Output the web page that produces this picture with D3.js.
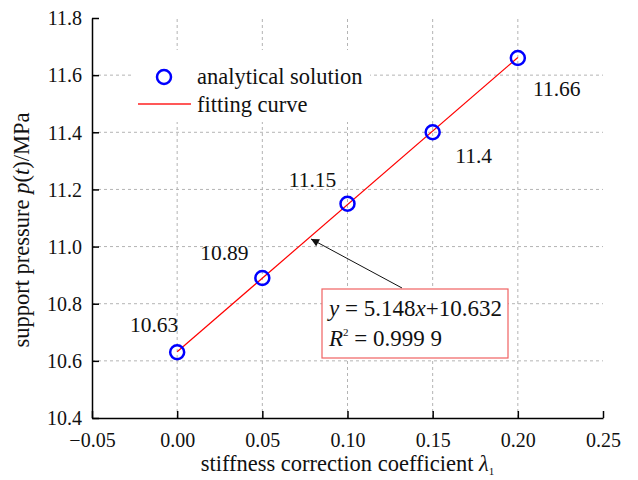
<!DOCTYPE html>
<html>
<head>
<meta charset="utf-8">
<script src="https://cdn.jsdelivr.net/npm/d3@7"></script>
<style>
  body { margin: 0; background: #fff; }
  svg, svg text { font-family: 'Liberation Serif', 'Times New Roman', Times, 'DejaVu Serif', serif; }
  .grid line { stroke: #b4b4b4; stroke-dasharray: 3,3; stroke-width: 1; }
</style>
</head>
<body>
<svg id="chart" width="638" height="480"></svg>
<script>
// stiffness correction coefficient vs support pressure
var lambdas = [0.00, 0.05, 0.10, 0.15, 0.20]
var pressures = [10.63, 10.89, 11.15, 11.40, 11.66]
var pointLabels = ['10.63', '10.89', '11.15', '11.4', '11.66']
var xTicks = [-0.05, 0.00, 0.05, 0.10, 0.15, 0.20, 0.25]
var yTicks = [10.4, 10.6, 10.8, 11.0, 11.2, 11.4, 11.6, 11.8]
var fitSlope = 5.148
var fitIntercept = 10.632
var fitRange = [0.00, 0.20]

// label offsets in px relative to each point (layout only)
var labelOffsets = [[-23, -20], [-38, -18], [-35, -17], [41, 31], [39, 38]]

var margin = {left: 92, right: 35, top: 18, bottom: 62}
,   width = 638
,   height = 480

var svg = d3.select('#chart')

var x = d3.scaleLinear().domain([-0.05, 0.25]).range([margin.left, width - margin.right])
var y = d3.scaleLinear().domain([10.4, 11.8]).range([height - margin.bottom, margin.top])

var fit = (v) => fitSlope * v + fitIntercept

// grid
var grid = svg.append('g').attr('class', 'grid')
grid.selectAll('.gy')
  .data(yTicks.slice(1, -1))
  .enter().append('line')
  .attr('x1', x.range()[0]).attr('x2', x.range()[1])
  .attr('y1', (d) => y(d)).attr('y2', (d) => y(d))
grid.selectAll('.gx')
  .data(xTicks.slice(1, -1))
  .enter().append('line')
  .attr('y1', y.range()[0]).attr('y2', y.range()[1])
  .attr('x1', (d) => x(d)).attr('x2', (d) => x(d))

// axes, ticks pointing inward
var xAxis = svg.append('g')
  .attr('transform', 'translate(0,' + y.range()[0] + ')')
  .call(d3.axisBottom(x).tickValues(xTicks).tickSizeInner(-7).tickSizeOuter(0)
    .tickPadding(15).tickFormat((d) => d3.format('.2f')(d).replace('-', '\u2212')))
var yAxis = svg.append('g')
  .attr('transform', 'translate(' + x.range()[0] + ',0)')
  .call(d3.axisLeft(y).tickValues(yTicks).tickSizeInner(-7).tickSizeOuter(0)
    .tickPadding(10).tickFormat(d3.format('.1f')))

;[xAxis, yAxis].forEach((a) => {
  a.attr('font-family', null).attr('font-size', null)
  a.select('.domain').attr('stroke', '#000').attr('stroke-width', 1.5)
  a.selectAll('.tick line').attr('stroke', '#000').attr('stroke-width', 1.5)
  a.selectAll('.tick text')
    .attr('font-size', 20).attr('fill', '#111')
})
yAxis.selectAll('.tick text').attr('dy', '0.34em')
xAxis.selectAll('.tick text').attr('dy', '0.68em')

// legend
var legend = svg.append('g')
legend.append('rect')
  .attr('x', 133).attr('y', 50).attr('width', 237).attr('height', 72)
  .attr('fill', '#fff')
legend.append('circle')
  .attr('cx', 164).attr('cy', 77).attr('r', 7)
  .attr('fill', 'none').attr('stroke', '#0000ff').attr('stroke-width', 2.5)
legend.append('text')
  .attr('x', 197).attr('y', 84).attr('font-size', 22.5).attr('fill', '#111')
  .text('analytical solution')
legend.append('line')
  .attr('x1', 138).attr('x2', 191).attr('y1', 104).attr('y2', 104)
  .attr('stroke', '#ff2020').attr('stroke-width', 1.5)
legend.append('text')
  .attr('x', 197).attr('y', 112).attr('font-size', 22.5).attr('fill', '#111')
  .text('fitting curve')

// fitting line
svg.append('path')
  .datum(fitRange)
  .attr('fill', 'none')
  .attr('stroke', '#ff0000')
  .attr('stroke-width', 1.2)
  .attr('d', d3.line().x((d) => x(d)).y((d) => y(fit(d))))

// points
var pts = lambdas.map((l, i) => ({l: l, p: pressures[i], label: pointLabels[i], off: labelOffsets[i]}))

svg.selectAll('.pt')
  .data(pts)
  .enter().append('circle')
  .attr('class', 'pt')
  .attr('cx', (d) => x(d.l)).attr('cy', (d) => y(d.p))
  .attr('r', 7)
  .attr('fill', 'none').attr('stroke', '#0000ff').attr('stroke-width', 2.5)

svg.selectAll('.ptlabel')
  .data(pts)
  .enter().append('text')
  .attr('class', 'ptlabel')
  .attr('x', (d) => x(d.l) + d.off[0]).attr('y', (d) => y(d.p) + d.off[1])
  .attr('text-anchor', 'middle')
  .attr('font-size', 21.5).attr('fill', '#111')
  .text((d) => d.label)

// annotation arrow + equation box
var arrowTipX = 0.078
var defs = svg.append('defs')
defs.append('marker')
  .attr('id', 'arrow').attr('viewBox', '0 0 10 10')
  .attr('refX', 10).attr('refY', 5)
  .attr('markerWidth', 10).attr('markerHeight', 8)
  .attr('markerUnits', 'userSpaceOnUse')
  .attr('orient', 'auto')
  .append('path').attr('d', 'M0,0L10,5L0,10Z').attr('fill', '#111')

svg.append('line')
  .attr('x1', 402).attr('y1', 288)
  .attr('x2', x(arrowTipX) + 1).attr('y2', y(fit(arrowTipX)) + 2)
  .attr('stroke', '#111').attr('stroke-width', 1)
  .attr('marker-end', 'url(#arrow)')

var box = svg.append('g')
box.append('rect')
  .attr('x', 322).attr('y', 289).attr('width', 186).attr('height', 69)
  .attr('fill', '#fff').attr('stroke', '#f06262').attr('stroke-width', 1.2)

var eq = box.append('text').attr('x', 329).attr('y', 316).attr('font-size', 23).attr('fill', '#111')
eq.append('tspan').attr('font-style', 'italic').text('y')
eq.append('tspan').text(' = ' + fitSlope)
eq.append('tspan').attr('font-style', 'italic').text('x')
eq.append('tspan').text('+' + fitIntercept)

var r2 = box.append('text').attr('x', 329).attr('y', 346).attr('font-size', 23).attr('fill', '#111')
r2.append('tspan').attr('font-style', 'italic').text('R')
r2.append('tspan').attr('font-size', 11).attr('dy', -10).text('2')
r2.append('tspan').attr('dy', 10).text(' = 0.999 9')

// axis titles
var xt = svg.append('text')
  .attr('x', (x.range()[0] + x.range()[1]) / 2).attr('y', 471)
  .attr('text-anchor', 'middle').attr('font-size', 22.5).attr('fill', '#111')
xt.append('tspan').text('stiffness correction coefficient ')
xt.append('tspan').attr('font-style', 'italic').text('\u03bb')
xt.append('tspan').attr('font-size', 11).attr('dy', 4).text('1')

var yt = svg.append('text')
  .attr('transform', 'translate(29,230) rotate(-90)')
  .attr('text-anchor', 'middle').attr('font-size', 22.5).attr('fill', '#111')
yt.append('tspan').text('support pressure  ')
yt.append('tspan').attr('font-style', 'italic').text('p')
yt.append('tspan').text('(')
yt.append('tspan').attr('font-style', 'italic').text('t')
yt.append('tspan').text(')/MPa')
</script>
</body>
</html>
